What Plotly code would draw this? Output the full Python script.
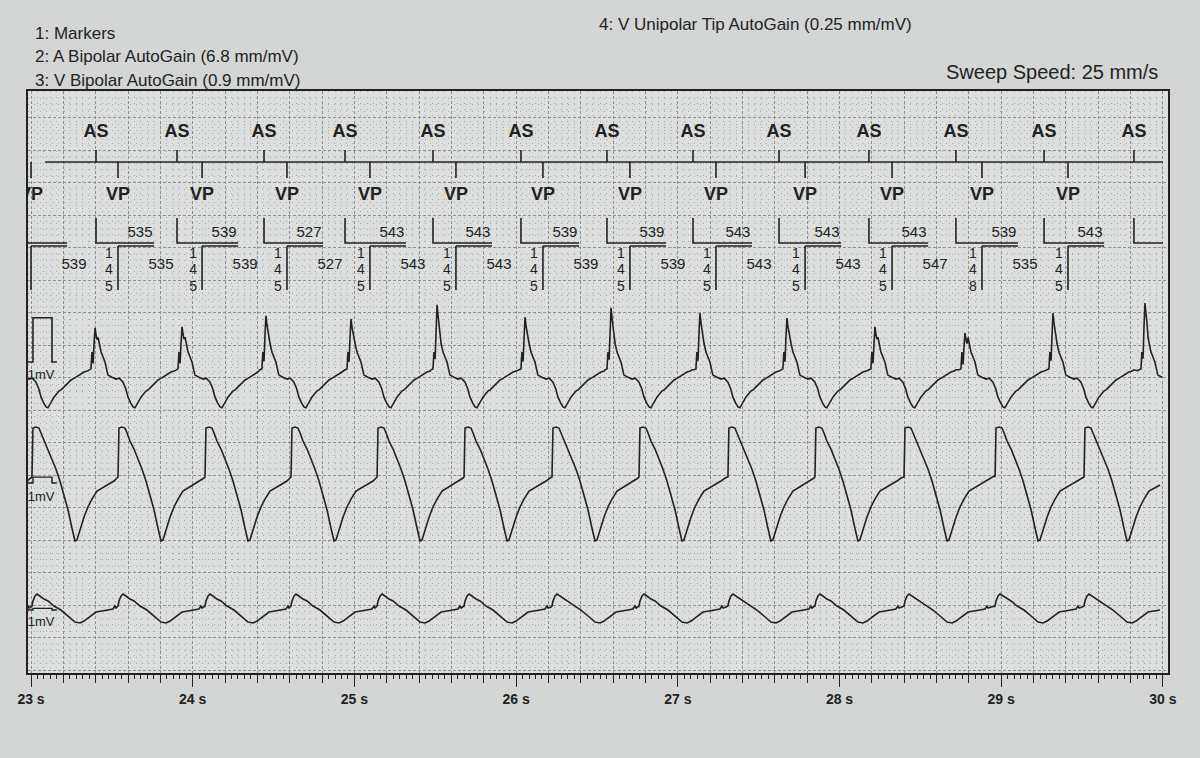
import plotly.graph_objects as go

# ---------------- texts ----------------
header_left = ["1: Markers",
               "2: A Bipolar AutoGain (6.8 mm/mV)",
               "3: V Bipolar AutoGain (0.9 mm/mV)"]
header_top = "4: V Unipolar Tip AutoGain (0.25 mm/mV)"
sweep_text = "Sweep Speed: 25 mm/s"
tick_seconds = [23, 24, 25, 26, 27, 28, 29, 30]
tick_labels = ["23 s", "24 s", "25 s", "26 s", "27 s", "28 s", "29 s", "30 s"]
cal_label = "1mV"

# ---------------- marker channel (seconds / ms) ----------------
as_t = [22.864, 23.402, 23.903, 24.441, 24.942, 25.486, 26.030, 26.562,
        27.094, 27.626, 28.182, 28.720, 29.265, 29.821]
vp_t = [23.000, 23.538, 24.058, 24.583, 25.096, 25.628, 26.166, 26.704,
        27.236, 27.787, 28.325, 28.881, 29.413]
aa_ms = [535, 539, 527, 543, 543, 539, 539, 543, 543, 543, 539, 543]   # after VP 1..12
vv_ms = [539, 535, 539, 527, 543, 543, 539, 539, 543, 543, 547, 535]   # after VP 0..11
av_ms = [145, 145, 145, 145, 145, 145, 145, 145, 145, 145, 148, 145]   # at VP 1..12
marker_start_t = 23.087
t_end = 30.0

# ---------------- channel 2: A bipolar ----------------
a_peak_t = [22.858, 23.396, 23.934, 24.453, 24.979, 25.511, 26.055, 26.587,
            27.137, 27.675, 28.219, 28.776, 29.320, 29.889]
a_peak_mv = [1.20, 1.00, 1.02, 1.27, 1.20, 1.52, 1.24, 1.45, 1.33, 1.22,
             1.02, 0.88, 1.33, 1.56]
a_tpl_ms = [-37, -25, -19, -12, -6, 0, 6, 12, 19, 25, 37, 43, 56, 62, 74,
            80, 105, 130, 150, 173, 190, 204, 220, 235, 247, 258, 266, 284,
            300, 315, 330, 346, 370, 390, 410, 433, 450, 470, 490, 501, 520]
a_tpl_mv = [0.05, 0.07, 0.45, 0.25, 0.85, 1.30, 1.10, 0.95, 0.78, 0.65, 0.45,
            0.40, 0.30, 0.22, 0.02, -0.07, -0.12, -0.16, -0.14, -0.23, -0.38,
            -0.57, -0.70, -0.79, -0.81, -0.74, -0.68, -0.57, -0.50, -0.43,
            -0.40, -0.34, -0.25, -0.18, -0.14, -0.09, -0.06, 0.00, 0.02,
            0.05, 0.03]

# ---------------- channels 3 & 4: V bipolar / V unipolar ----------------
v_onset_t = [22.468, 23.006, 23.538, 24.076, 24.608, 25.140, 25.678, 26.222,
             26.760, 27.310, 27.848, 28.399, 28.962, 29.512]
vb_tpl_ms = [0, 6, 25, 43, 56, 74, 99, 124, 148, 173, 198, 223, 247, 266,
             278, 297, 322, 346, 371, 402, 433, 470, 507, 532, 557]
vb_tpl_mv = [1.03, 9.40, 9.57, 9.40, 8.55, 7.18, 5.81, 4.10, 2.39, 0.34,
             -2.05, -4.62, -7.69, -9.91, -9.74, -8.03, -5.81, -4.10, -2.74,
             -1.37, -0.85, -0.34, 0.34, 0.85, 1.20]
vu_tpl_ms = [0, 6, 19, 31, 49, 74, 99, 136, 179, 223, 266, 297, 322, 346,
             371, 396, 433, 470, 501, 513, 520, 538]
vu_tpl_mv = [2.46, 5.54, 8.62, 9.85, 8.62, 6.77, 5.54, 2.46, 0.0, -3.69,
             -7.38, -8.0, -6.77, -4.92, -3.08, -1.23, -0.62, 0.0, 0.62, 2.46,
             1.23, 1.85]

# calibration pulse
cal_t = [22.980, 23.012, 23.012, 23.130, 23.130, 23.160]
cal_mv = [0, 0, 1, 1, 0, 0]

gain_a, gain_vb, gain_vu = 6.8, 0.9, 0.25   # mm per mV

# ---------------- layout constants (mm on the paper) ----------------
X_RANGE = [22.9814, 30.0315]
Y_TOP = 89.54
Y_AS_LABEL, Y_AS_TOP, Y_BASE, Y_VP_BOT, Y_VP_LABEL = 83.08, 80.46, 78.62, 76.15, 73.54
Y_UB_TOP, Y_UB_BOT = 70.0, 66.15
Y_LB_TOP, Y_LB_BOT = 65.69, 58.92
Y_AA_TXT, Y_VV_TXT = 67.69, 62.77
Y_AV_ROWS = [64.31, 61.85, 59.38]
Z_A, CAL_A = 46.31, 47.85
Z_VB, Z_VU = 29.23, 9.69
Y_CAL_TXT = [45.7, 27.0, 7.69]
BRACKET_LEN = 0.223
AA_DX, VV_DX, AV_DX = 0.136, 0.266, -0.056

INK = "#222222"
FONT = "Liberation Sans, Arial, sans-serif"


def build(beat_t, tpl_ms, tpl_mv, scale=None):
    xs, ys = [], []
    first = tpl_ms[0] / 1000.0
    for i, t0 in enumerate(beat_t):
        stop = beat_t[i + 1] + first if i + 1 < len(beat_t) else t_end
        stop = min(stop, t_end)
        for off, v in zip(tpl_ms, tpl_mv):
            t = t0 + off / 1000.0
            if t >= stop:
                break
            if scale is not None and abs(off) <= 12:
                v = v * scale[i]
            xs.append(t)
            ys.append(v)
    return xs, ys


fig = go.Figure()


def seg_trace(xs, ys, width=1.5):
    fig.add_trace(go.Scatter(x=xs, y=ys, mode="lines",
                             line=dict(color=INK, width=width),
                             hoverinfo="skip", showlegend=False))


def text_trace(xs, ys, texts, size, bold=False, clip=True):
    fig.add_trace(go.Scatter(x=xs, y=ys, mode="text", text=texts,
                             textposition="middle center",
                             textfont=dict(family=FONT, size=size, color=INK,
                                           weight="bold" if bold else "normal"),
                             cliponaxis=clip, hoverinfo="skip", showlegend=False))


# --- marker channel ---
seg_trace([marker_start_t, t_end], [Y_BASE, Y_BASE], 1.6)
xs, ys = [], []
for t in as_t:
    xs += [t, t, None]; ys += [Y_AS_TOP, Y_BASE, None]
for t in vp_t:
    xs += [t, t, None]; ys += [Y_BASE, Y_VP_BOT, None]
seg_trace(xs, ys, 1.6)
as_vis = [t for t in as_t if t >= X_RANGE[0]]
text_trace(as_vis, [Y_AS_LABEL] * len(as_vis), ["AS"] * len(as_vis), 18, bold=True)
text_trace(vp_t, [Y_VP_LABEL] * len(vp_t), ["VP"] * len(vp_t), 18, bold=True)

# interval brackets
xs, ys = [], []
for i, t in enumerate(as_t):
    end = vp_t[i] + BRACKET_LEN if i < len(vp_t) else t_end
    xs += [t, t, end, None]; ys += [Y_UB_TOP, Y_UB_BOT, Y_UB_BOT, None]
for t in vp_t:
    xs += [t, t, None]; ys += [Y_LB_BOT, Y_LB_TOP, None]
    xs += [t, t + BRACKET_LEN, None]; ys += [Y_LB_TOP, Y_LB_TOP, None]
seg_trace(xs, ys, 1.6)

text_trace([t + AA_DX for t in vp_t[1:]], [Y_AA_TXT] * len(aa_ms),
           [str(v) for v in aa_ms], 15)
text_trace([t + VV_DX for t in vp_t[:len(vv_ms)]], [Y_VV_TXT] * len(vv_ms),
           [str(v) for v in vv_ms], 15)
for r in range(3):
    text_trace([t + AV_DX for t in vp_t[1:]], [Y_AV_ROWS[r]] * len(av_ms),
               [str(v)[r] for v in av_ms], 14)

# --- channel 2: A bipolar ---
scale = [p / 1.30 for p in a_peak_mv]
ax, av = build(a_peak_t, a_tpl_ms, a_tpl_mv, scale)
seg_trace(ax, [Z_A + v * gain_a for v in av], 1.6)
seg_trace(cal_t, [CAL_A + v * gain_a for v in cal_mv], 1.6)

# --- channel 3: V bipolar ---
bx, bv = build(v_onset_t, vb_tpl_ms, vb_tpl_mv)
seg_trace(bx, [Z_VB + v * gain_vb for v in bv], 1.6)
seg_trace(cal_t, [Z_VB + v * gain_vb for v in cal_mv], 1.4)

# --- channel 4: V unipolar ---
ux, uv = build(v_onset_t, vu_tpl_ms, vu_tpl_mv)
seg_trace(ux, [Z_VU + v * gain_vu for v in uv], 1.6)
seg_trace(cal_t, [Z_VU + v * gain_vu for v in cal_mv], 1.4)

text_trace([23.062] * 3, Y_CAL_TXT, [cal_label] * 3, 13, clip=False)

# overlay axis for labelled second ticks
fig.add_trace(go.Scatter(x=[X_RANGE[0]], y=[0], xaxis="x2", mode="markers",
                         marker=dict(opacity=0), hoverinfo="skip",
                         showlegend=False))

# ---------------- header annotations ----------------
L, W, B, H = 28, 1140, 673, 582
fx = lambda px: (px - L) / W
fy = lambda py: (B - py) / H
ann = []
for txt, py in zip(header_left, [34, 57, 80]):
    ann.append(dict(text=txt, x=fx(33), y=fy(py), xref="paper", yref="paper",
                    xanchor="left", yanchor="middle", showarrow=False,
                    font=dict(family=FONT, size=17, color=INK)))
ann.append(dict(text=header_top, x=fx(597), y=fy(25), xref="paper", yref="paper",
                xanchor="left", yanchor="middle", showarrow=False,
                font=dict(family=FONT, size=17, color=INK)))
ann.append(dict(text=sweep_text, x=fx(1160), y=fy(72), xref="paper", yref="paper",
                xanchor="right", yanchor="middle", showarrow=False,
                font=dict(family=FONT, size=20, color=INK)))

MAJ_GRID = "#8e9291"
MIN_GRID = "#a6aaa9"

fig.update_layout(
    width=1200, height=758, autosize=False,
    margin=dict(l=L, r=1200 - L - W, t=91, b=758 - B),
    paper_bgcolor="#d3d6d5", plot_bgcolor="#dcdfde",
    annotations=ann,
    xaxis=dict(range=X_RANGE, tickmode="linear", tick0=23, dtick=0.2,
               ticks="outside", ticklen=8, tickwidth=1.2, tickcolor=INK,
               showticklabels=False,
               showgrid=True, gridcolor=MAJ_GRID, gridwidth=1, griddash="3px,2px",
               showline=True, mirror=True, linecolor=INK, linewidth=2,
               zeroline=False,
               minor=dict(dtick=0.04, tick0=23, ticks="outside", ticklen=4,
                          tickwidth=1, tickcolor=INK, showgrid=True,
                          gridcolor=MIN_GRID, gridwidth=1, griddash="1px,5px")),
    xaxis2=dict(range=X_RANGE, overlaying="x", side="bottom", anchor="y",
                tickmode="array", tickvals=tick_seconds, ticktext=tick_labels,
                ticks="outside", ticklen=13, tickwidth=1.4, tickcolor=INK,
                tickfont=dict(family=FONT, size=14, color=INK, weight="bold"),
                showgrid=False, showline=False, zeroline=False),
    yaxis=dict(range=[0, Y_TOP], tickmode="linear", tick0=0.46, dtick=5,
               showticklabels=False, ticks="",
               showgrid=True, gridcolor=MAJ_GRID, gridwidth=1, griddash="3px,2px",
               showline=True, mirror=True, linecolor=INK, linewidth=2,
               zeroline=False,
               minor=dict(dtick=1, tick0=0.46, showgrid=True, gridcolor=MIN_GRID,
                          gridwidth=1, griddash="1px,5px")),
)

fig.write_html("out.html",
               config={"displayModeBar": False},
               post_script="document.body.style.margin='0px';"
                           "document.body.style.background='#d3d6d5';")
